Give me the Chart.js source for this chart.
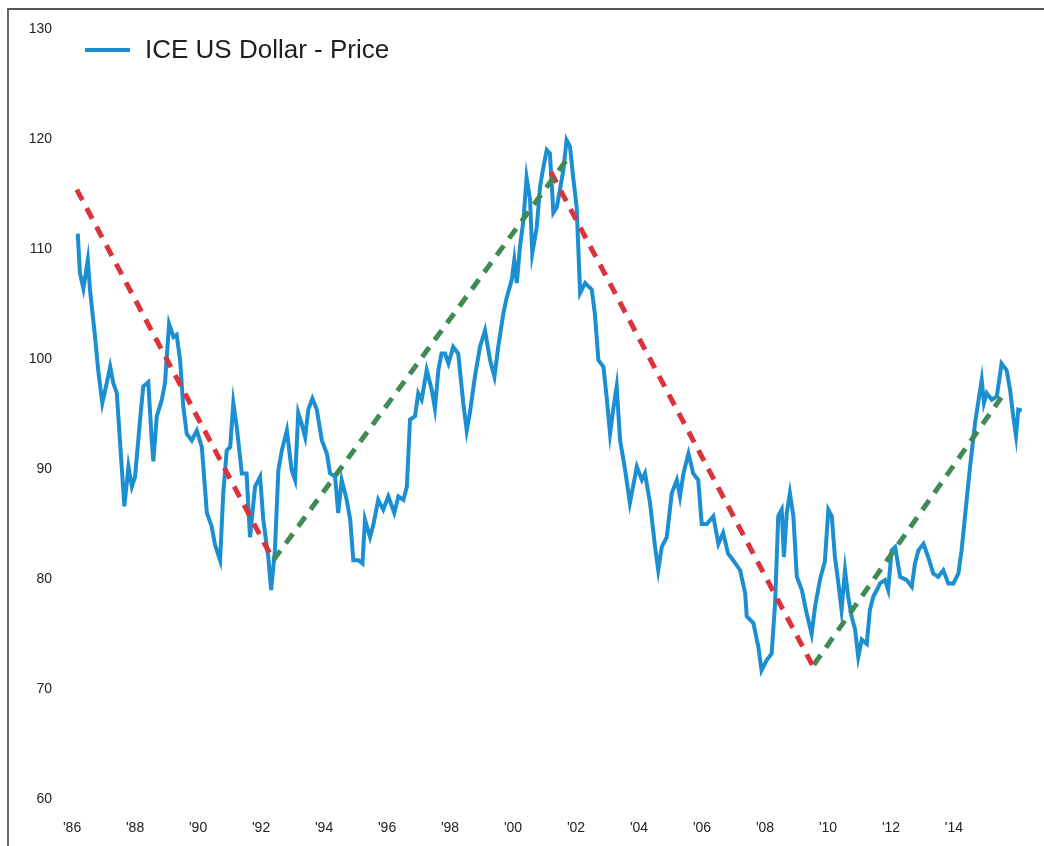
<!DOCTYPE html>
<html>
<head>
<meta charset="utf-8">
<script src="https://cdn.jsdelivr.net/npm/chart.js@4"></script>
<style>
    html, body { margin: 0; padding: 0; background: #fff; }
    #wrap { position: relative; width: 1044px; height: 846px; overflow: hidden; }
    #frame { position: absolute; left: 7px; top: 8px; right: -4px; bottom: -4px;
             border-left: 2px solid #666; border-top: 2px solid #555; pointer-events: none; }
    #legend { position: absolute; left: 85px; top: 34px; display: flex; align-items: center;
              font-family: "Liberation Sans", Arial, sans-serif; font-size: 26px; color: #1e1e1e; }
    #legend .swatch { width: 45px; height: 4px; background: #1b8fd2; margin-right: 15px; }
</style>
</head>
<body>
<div id="wrap">
    <canvas id="chart" width="1044" height="846"></canvas>
    <div id="frame"></div>
    <div id="legend"><span class="swatch"></span><span>ICE US Dollar - Price</span></div>
</div>
<script>
// ICE US Dollar index (decimal years)
const years = [
    1986.18, 1986.25, 1986.36, 1986.50, 1986.57, 1986.73, 1986.83, 1986.96, 1987.10, 1987.21,
    1987.31, 1987.42, 1987.52, 1987.66, 1987.79, 1987.90, 1988.00, 1988.16, 1988.26, 1988.42,
    1988.53, 1988.58, 1988.69, 1988.85, 1988.95, 1989.08, 1989.22, 1989.32, 1989.43, 1989.53,
    1989.64, 1989.80, 1989.96, 1990.12, 1990.28, 1990.43, 1990.54, 1990.70, 1990.80, 1990.91,
    1991.02, 1991.12, 1991.23, 1991.39, 1991.54, 1991.65, 1991.81, 1991.97, 1992.07, 1992.23,
    1992.32, 1992.44, 1992.55, 1992.66, 1992.82, 1992.97, 1993.08, 1993.18, 1993.29, 1993.40,
    1993.50, 1993.63, 1993.77, 1993.93, 1994.09, 1994.19, 1994.35, 1994.45, 1994.56, 1994.72,
    1994.83, 1994.93, 1995.09, 1995.22, 1995.30, 1995.46, 1995.57, 1995.72, 1995.88, 1996.04,
    1996.23, 1996.36, 1996.52, 1996.63, 1996.73, 1996.89, 1996.99, 1997.10, 1997.26, 1997.42,
    1997.52, 1997.63, 1997.73, 1997.84, 1997.95, 1998.10, 1998.26, 1998.42, 1998.53, 1998.63,
    1998.79, 1998.95, 1999.11, 1999.27, 1999.41, 1999.53, 1999.69, 1999.80, 1999.96, 2000.04,
    2000.12, 2000.22, 2000.33, 2000.43, 2000.54, 2000.61, 2000.75, 2000.86, 2000.96, 2001.07,
    2001.17, 2001.28, 2001.39, 2001.49, 2001.60, 2001.70, 2001.81, 2001.91, 2002.02, 2002.13,
    2002.29, 2002.50, 2002.60, 2002.71, 2002.87, 2002.97, 2003.08, 2003.19, 2003.29, 2003.40,
    2003.56, 2003.71, 2003.93, 2004.09, 2004.19, 2004.35, 2004.51, 2004.61, 2004.72, 2004.88,
    2005.04, 2005.20, 2005.30, 2005.41, 2005.57, 2005.72, 2005.88, 2005.99, 2006.15, 2006.36,
    2006.52, 2006.67, 2006.83, 2006.99, 2007.21, 2007.37, 2007.42, 2007.63, 2007.79, 2007.89,
    2008.05, 2008.21, 2008.32, 2008.42, 2008.53, 2008.60, 2008.69, 2008.79, 2008.90, 2009.01,
    2009.17, 2009.32, 2009.48, 2009.59, 2009.75, 2009.90, 2010.01, 2010.12, 2010.22, 2010.33,
    2010.43, 2010.54, 2010.64, 2010.75, 2010.86, 2010.96, 2011.07, 2011.23, 2011.33, 2011.44,
    2011.55, 2011.65, 2011.81, 2011.91, 2012.02, 2012.13, 2012.29, 2012.50, 2012.66, 2012.76,
    2012.87, 2013.03, 2013.18, 2013.34, 2013.50, 2013.66, 2013.82, 2013.98, 2014.14, 2014.24,
    2014.35, 2014.51, 2014.67, 2014.83, 2014.88, 2014.95, 2015.04, 2015.20, 2015.36, 2015.51,
    2015.67, 2015.78, 2015.88, 2015.97, 2016.04, 2016.15
];
const prices = [
    111.4, 107.8, 106.4, 109.0, 106.3, 102.0, 99.0, 96.0, 97.8, 99.3,
    97.8, 96.9, 92.6, 86.6, 90.2, 88.4, 89.3, 94.5, 97.5, 97.9,
    92.6, 90.7, 94.8, 96.3, 97.8, 103.2, 102.0, 102.2, 99.9, 95.7,
    93.2, 92.6, 93.5, 92.0, 86.0, 84.8, 83.1, 81.7, 87.8, 91.7,
    92.0, 96.0, 93.8, 89.6, 89.6, 83.8, 88.4, 89.3, 85.4, 82.0,
    79.0, 82.6, 89.9, 91.7, 93.5, 89.9, 89.0, 95.1, 94.1, 92.9,
    95.4, 96.4, 95.4, 92.6, 91.4, 89.6, 89.3, 86.0, 89.0, 87.2,
    85.4, 81.7, 81.7, 81.4, 85.4, 83.8, 85.0, 87.2, 86.3, 87.5,
    86.0, 87.5, 87.2, 88.4, 94.5, 94.8, 96.9, 96.3, 99.0, 97.2,
    95.5, 99.0, 100.5, 100.5, 99.6, 101.1, 100.5, 96.0, 93.5, 95.1,
    98.4, 101.1, 102.6, 99.9, 98.4, 101.1, 104.1, 105.6, 107.2, 109.0,
    106.9, 110.2, 112.6, 116.5, 114.5, 109.6, 111.9, 115.7, 117.4, 119.0,
    118.7, 113.3, 113.8, 115.4, 117.2, 119.9, 119.3, 116.5, 113.8, 106.0,
    106.9, 106.3, 104.1, 99.9, 99.3, 96.6, 93.2, 95.6, 97.5, 92.6,
    89.9, 86.9, 90.2, 89.0, 89.6, 86.9, 82.9, 80.8, 82.9, 83.8,
    87.8, 89.0, 87.5, 89.6, 91.4, 89.6, 89.0, 85.0, 85.0, 85.7,
    83.2, 84.2, 82.3, 81.7, 80.8, 78.7, 76.6, 76.0, 73.8, 71.7,
    72.6, 73.2, 77.8, 85.7, 86.3, 82.0, 86.0, 87.8, 85.7, 80.2,
    79.0, 76.9, 75.0, 77.5, 80.0, 81.6, 86.3, 85.7, 82.0, 79.6,
    77.2, 80.8, 78.4, 76.6, 75.4, 72.9, 74.5, 74.1, 77.2, 78.4,
    79.0, 79.6, 79.9, 79.0, 82.6, 82.9, 80.2, 79.9, 79.3, 81.4,
    82.6, 83.2, 82.0, 80.5, 80.2, 80.8, 79.6, 79.6, 80.5, 82.6,
    85.7, 90.2, 94.2, 97.2, 98.1, 96.0, 96.9, 96.3, 96.6, 99.6,
    99.0, 97.2, 94.8, 93.0, 95.4, 95.3
];

// hand-drawn trend lines: [start, end] in years / index values
const downYears1 = [1986.15, 1992.39];
const downVals1 = [115.4, 81.7];
const upYears1 = [1992.39, 2001.75];
const upVals1 = [81.7, 118.3];
const downYears2 = [2001.20, 2009.50];
const downVals2 = [117.0, 72.2];
const upYears2 = [2009.55, 2015.50];
const upVals2 = [72.2, 96.5];

const xTickYears = [1986, 1988, 1990, 1992, 1994, 1996, 1998, 2000, 2002, 2004, 2006, 2008, 2010, 2012, 2014];
const xTickLabels = ["'86", "'88", "'90", "'92", "'94", "'96", "'98", "'00", "'02", "'04", "'06", "'08", "'10", "'12", "'14"];
const yTicks = [60, 70, 80, 90, 100, 110, 120, 130];

const toXY = (xs, ys) => xs.map((x, i) => ({ x: x, y: ys[i] }));

const RED = '#dc3239';
const GREEN = '#3f8a55';
const BLUE = '#1b8fd2';

const trend = (xs, ys, color) => ({
    data: toXY(xs, ys),
    borderColor: color,
    borderWidth: 5,
    borderDash: [12, 9],
    pointRadius: 0,
    fill: false,
    order: 1
});

const ctx = document.getElementById("chart").getContext("2d");

new Chart(ctx, {
    type: 'line',
    data: {
        datasets: [
            {
                label: 'ICE US Dollar - Price',
                data: toXY(years, prices),
                borderColor: BLUE,
                borderWidth: 4,
                pointRadius: 0,
                tension: 0,
                fill: false,
                order: 2
            },
            trend(downYears1, downVals1, RED),
            trend(upYears1, upVals1, GREEN),
            trend(downYears2, downVals2, RED),
            trend(upYears2, upVals2, GREEN)
        ]
    },
    options: {
        responsive: false,
        animation: false,
        layout: { padding: { left: 0, right: 10, top: 29, bottom: 0 } },
        plugins: {
            legend: { display: false },
            tooltip: { enabled: false }
        },
        scales: {
            x: {
                type: 'linear',
                min: 1985.49,
                max: 2016.54,
                afterFit: (scale) => { scale.height = 47; },
                afterBuildTicks: (scale) => { scale.ticks = xTickYears.map(v => ({ value: v })); },
                grid: { display: false, drawTicks: false },
                border: { display: false },
                ticks: {
                    padding: 21,
                    autoSkip: false,
                    maxRotation: 0,
                    color: '#222',
                    font: { family: 'Liberation Sans', size: 14 },
                    callback: (v) => xTickLabels[xTickYears.indexOf(v)]
                }
            },
            y: {
                min: 60,
                max: 130,
                afterFit: (scale) => { scale.width = 56; },
                afterBuildTicks: (scale) => { scale.ticks = yTicks.map(v => ({ value: v })); },
                grid: { display: false, drawTicks: false },
                border: { display: false },
                ticks: {
                    padding: 4,
                    color: '#222',
                    font: { family: 'Liberation Sans', size: 14 }
                }
            }
        }
    }
});
</script>
</body>
</html>
